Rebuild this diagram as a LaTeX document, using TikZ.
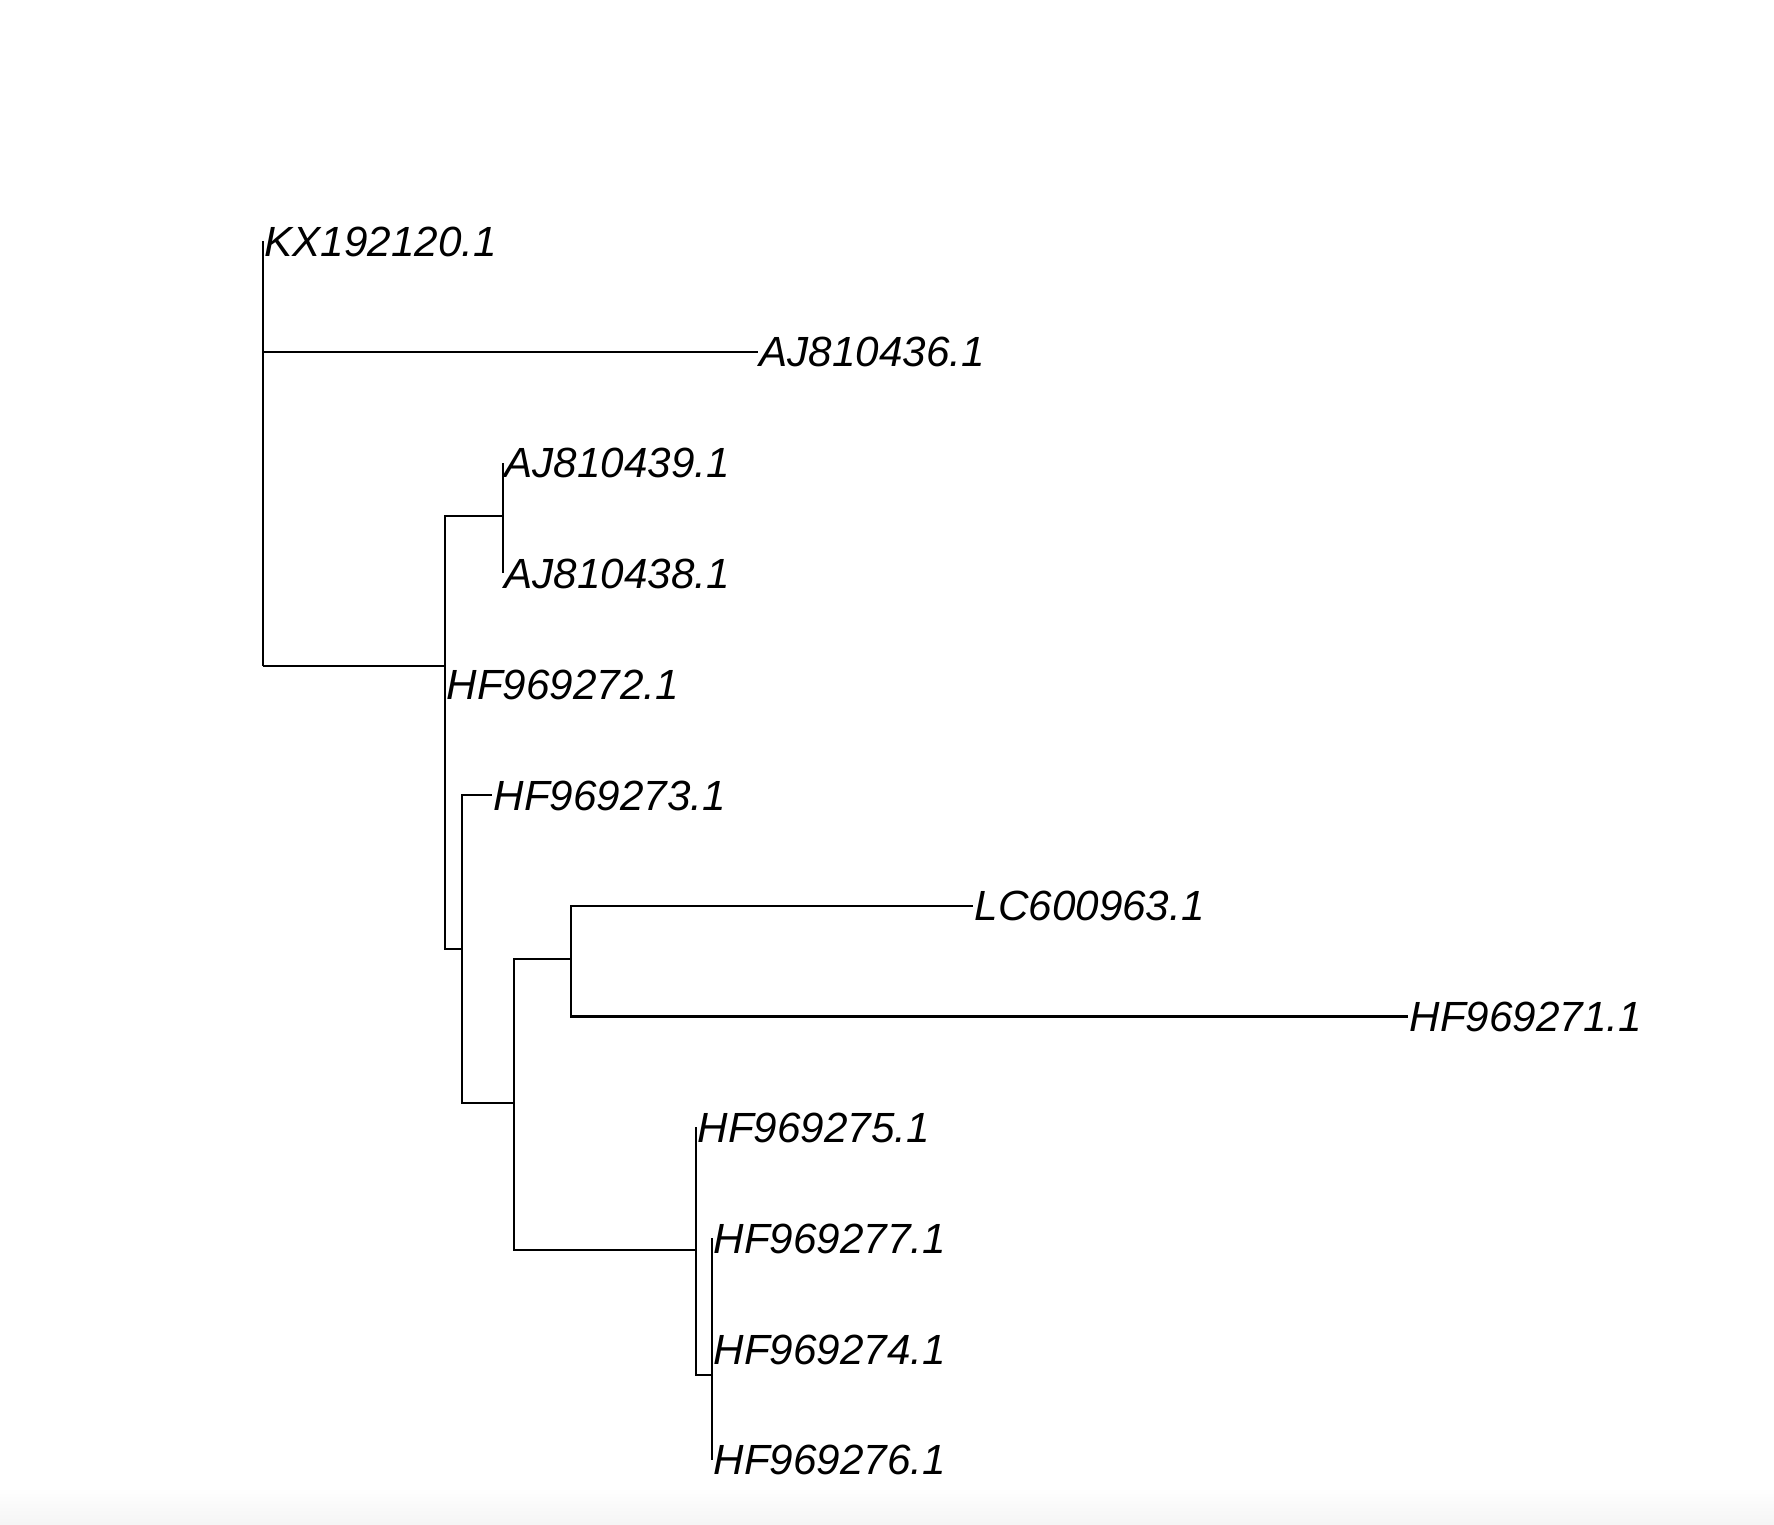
\documentclass[tikz,border=0pt]{standalone}
\usepackage{fontspec}
\setmainfont{Liberation Sans}
\begin{document}
\begin{tikzpicture}[x=1pt,y=-1pt,
  branch/.style={line width=2.4pt, line join=miter},
  lab/.style={anchor=base west, inner sep=0pt, xshift=1.5pt, yshift=-15pt,
              font=\fontsize{42.2}{48}\selectfont\itshape}]
\useasboundingbox (0,0) rectangle (1774,1524);
\fill[white] (0,0) rectangle (1774,1524);
\shade[top color=white, bottom color=black!4] (0,1488) rectangle (1774,1524);

% tips
\coordinate (t0)  at (263,241);
\coordinate (t1)  at (758,351.8);
\coordinate (t2)  at (503,462.6);
\coordinate (t3)  at (503,573.4);
\coordinate (t4)  at (445,684.2);
\coordinate (t5)  at (492,795);
\coordinate (t6)  at (973,905.8);
\coordinate (t7)  at (1408,1016.6);
\coordinate (t8)  at (696,1127.4);
\coordinate (t9)  at (712,1238.2);
\coordinate (t10) at (712,1349);
\coordinate (t11) at (712,1459.8);

% internal nodes
\coordinate (root) at (263,666);
\coordinate (nA)   at (445,666);
\coordinate (nAJ)  at (503,516);
\coordinate (nB)   at (462,949);
\coordinate (nC)   at (514,1103);
\coordinate (nD)   at (571,959);
\coordinate (nE)   at (696,1250);
\coordinate (nF)   at (712,1375);

% branches
\draw[branch] (root) |- (t0);
\draw[branch] (root) |- (t1);
\draw[branch] (root) |- (nA);
\draw[branch] (nA) |- (nAJ);
\draw[branch] (nA) |- (t4);
\draw[branch] (nA) |- (nB);
\draw[branch] (nAJ) |- (t2);
\draw[branch] (nAJ) |- (t3);
\draw[branch] (nB) |- (t5);
\draw[branch] (nB) |- (nC);
\draw[branch] (nC) |- (nD);
\draw[branch] (nC) |- (nE);
\draw[branch] (nD) |- (t6);
\draw[branch] (nD) |- (t7);
\draw[branch] (nE) |- (t8);
\draw[branch] (nE) |- (nF);
\draw[branch] (nF) |- (t9);
\draw[branch] (nF) |- (t10);
\draw[branch] (nF) |- (t11);

% tip labels
\node[lab] (l0)  at (t0)  {KX192120.1};
\node[lab] (l1)  at (t1)  {AJ810436.1};
\node[lab] (l2)  at (t2)  {AJ810439.1};
\node[lab] (l3)  at (t3)  {AJ810438.1};
\node[lab] (l4)  at (t4)  {HF969272.1};
\node[lab] (l5)  at (t5)  {HF969273.1};
\node[lab] (l6)  at (t6)  {LC600963.1};
\node[lab] (l7)  at (t7)  {HF969271.1};
\node[lab] (l8)  at (t8)  {HF969275.1};
\node[lab] (l9)  at (t9)  {HF969277.1};
\node[lab] (l10) at (t10) {HF969274.1};
\node[lab] (l11) at (t11) {HF969276.1};
\end{tikzpicture}
\end{document}
